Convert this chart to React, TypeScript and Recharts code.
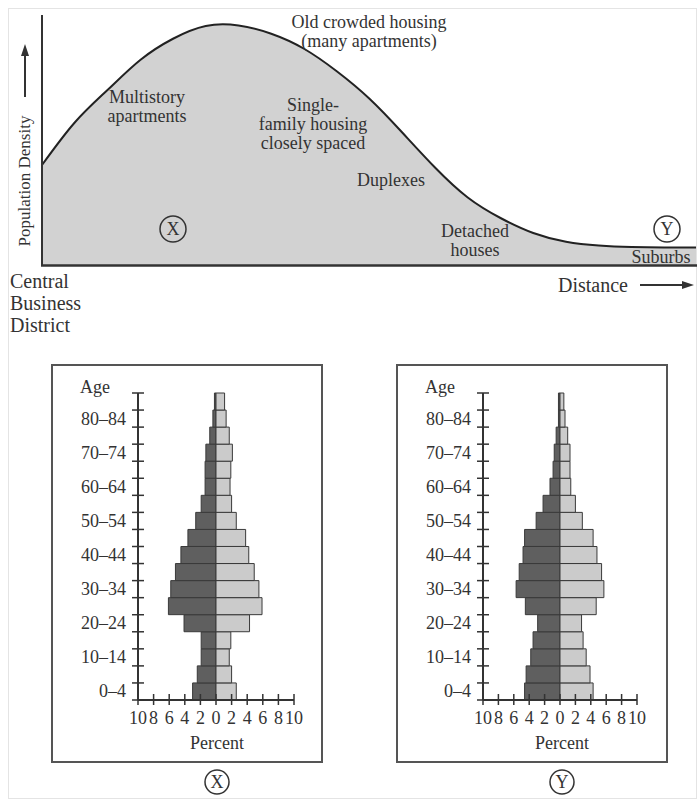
import { AreaChart, Area, BarChart, Bar, XAxis, YAxis } from "recharts";

// distance from the CBD (0-100) and population density
const distance = [0, 5, 10, 15, 20, 25, 30, 35, 40, 45, 50, 55, 60, 65, 70, 75, 80, 85, 90, 95, 100];
const density = [40, 57, 70, 82, 90.5, 95.6, 95.8, 92.5, 86.5, 77.5, 66.5, 53, 39, 27, 18.8, 12.8, 9.3, 7.8, 7.2, 7, 7];

const ageGroups = [
  "0–4", "5–9", "10–14", "15–19", "20–24", "25–29", "30–34", "35–39", "40–44",
  "45–49", "50–54", "55–59", "60–64", "65–69", "70–74", "75–79", "80–84", "85+",
];

// pyramid X (left = dark bars, right = light bars), percent
const xLeft = [3.0, 2.4, 1.9, 1.9, 4.1, 6.1, 5.8, 5.2, 4.5, 3.6, 2.6, 1.9, 1.4, 1.4, 1.3, 0.8, 0.4, 0.2];
const xRight = [2.6, 2.0, 1.7, 1.9, 4.3, 5.9, 5.5, 4.9, 4.2, 3.8, 2.6, 2.0, 1.8, 1.9, 2.1, 1.7, 1.3, 1.1];

// pyramid Y
const yLeft = [4.6, 4.4, 3.8, 3.5, 2.9, 4.5, 5.7, 5.3, 4.8, 4.6, 3.1, 2.2, 1.3, 0.9, 0.75, 0.5, 0.2, 0.2];
const yRight = [4.3, 3.9, 3.4, 3.0, 2.8, 4.7, 5.7, 5.4, 4.8, 4.3, 2.9, 2.0, 1.4, 1.3, 1.3, 1.0, 0.65, 0.5];

const percentTicks = [-10, -8, -6, -4, -2, 0, 2, 4, 6, 8, 10];

const FONT = "'Liberation Serif', 'Times New Roman', serif";
const INK = "#333";

const curveData = distance.map((d, i) => ({ dist: d, density: density[i] }));

const PYR_W = 270;
const PYR_H = 397;
const PYR_TOP = 28;
const PYR_XAXIS_H = 62;
const BAND = (PYR_H - PYR_TOP - PYR_XAXIS_H) / ageGroups.length;

const AgeTick = (props: any) => {
  const { x, y, payload } = props;
  const idx = ageGroups.indexOf(payload.value);
  return (
    <g>
      <line x1={x - 6} x2={x + 6} y1={y + BAND / 2} y2={y + BAND / 2} stroke={INK} strokeWidth={1.5} />
      {idx === ageGroups.length - 1 && (
        <line x1={x - 6} x2={x + 6} y1={y - BAND / 2} y2={y - BAND / 2} stroke={INK} strokeWidth={1.5} />
      )}
      {idx % 2 === 0 && idx < ageGroups.length - 1 && (
        <text x={x - 12} y={y + 6} textAnchor="end" fontSize={18} fontFamily={FONT} fill={INK}>
          {payload.value}
        </text>
      )}
    </g>
  );
};

const PercentTick = (props: any) => {
  const { x, y, payload } = props;
  return (
    <g>
      <line x1={x} x2={x} y1={y - 6} y2={y + 5} stroke={INK} strokeWidth={1.5} />
      <text x={x} y={y + 24} textAnchor="middle" fontSize={18} fontFamily={FONT} fill={INK}>
        {Math.abs(payload.value)}
      </text>
    </g>
  );
};

const Pyramid = ({ left, top, axisW, rightM, lv, rv }: any) => {
  const rows = ageGroups.map((age, i) => ({ age, left: -lv[i], right: rv[i] }));
  return (
    <div style={{ position: "absolute", left, top }}>
      <BarChart
        width={PYR_W}
        height={PYR_H}
        data={rows}
        layout="vertical"
        stackOffset="sign"
        barCategoryGap={0}
        margin={{ top: PYR_TOP, right: rightM, bottom: 0, left: 0 }}
      >
        <XAxis
          type="number"
          domain={[-10, 10]}
          ticks={percentTicks}
          interval={0}
          height={PYR_XAXIS_H}
          tickSize={0}
          tickMargin={0}
          tickLine={false}
          tick={<PercentTick />}
          axisLine={{ stroke: INK, strokeWidth: 2 }}
        />
        <YAxis
          type="category"
          dataKey="age"
          reversed
          width={axisW}
          interval={0}
          tickSize={0}
          tickMargin={0}
          tickLine={false}
          tick={<AgeTick />}
          axisLine={{ stroke: INK, strokeWidth: 2 }}
        />
        <Bar dataKey="left" stackId="p" fill="#5f5f5f" stroke="#3a3a3a" strokeWidth={1} isAnimationActive={false} />
        <Bar dataKey="right" stackId="p" fill="#cbcbcb" stroke="#3a3a3a" strokeWidth={1} isAnimationActive={false} />
      </BarChart>
    </div>
  );
};

const T = ({ x, y, size = 18, anchor = "middle", children }: any) => (
  <text x={x} y={y} fontSize={size} textAnchor={anchor} fontFamily={FONT} fill={INK}>
    {children}
  </text>
);

export default function App() {
  return (
    <div
      style={{
        position: "absolute",
        left: 0,
        top: 0,
        width: 697,
        height: 802,
        background: "#fff",
        fontFamily: FONT,
        overflow: "hidden",
      }}
    >
      <div style={{ position: "absolute", left: 0, top: 0 }}>
        <AreaChart width={697} height={340} data={curveData} margin={{ top: 15, right: 0, bottom: 75, left: 42 }}>
          <XAxis type="number" dataKey="dist" domain={[0, 100]} height={0} tick={false} tickLine={false} axisLine={false} />
          <YAxis domain={[0, 100]} width={0} tick={false} tickLine={false} axisLine={false} />
          <Area
            type="natural"
            dataKey="density"
            stroke="#222"
            strokeWidth={2}
            fill="#d2d2d2"
            fillOpacity={1}
            isAnimationActive={false}
          />
        </AreaChart>
      </div>

      <Pyramid left={52} top={365} axisW={86} rightM={28} lv={xLeft} rv={xRight} />
      <Pyramid left={397} top={365} axisW={86} rightM={30} lv={yLeft} rv={yRight} />

      <svg width={697} height={802} style={{ position: "absolute", left: 0, top: 0, pointerEvents: "none" }}>
        <rect x={8.5} y={8.5} width={688} height={790} fill="none" stroke="#e4e4e4" />

        {/* top panel axes */}
        <line x1={42} y1={15} x2={42} y2={266} stroke={INK} strokeWidth={2} />
        <line x1={41} y1={265.5} x2={697} y2={265.5} stroke={INK} strokeWidth={2.5} />

        {/* top panel labels */}
        <T x={369} y={28}>Old crowded housing</T>
        <T x={369} y={47}>(many apartments)</T>
        <T x={147} y={103}>Multistory</T>
        <T x={147} y={122}>apartments</T>
        <T x={313} y={111}>Single-</T>
        <T x={313} y={130}>family housing</T>
        <T x={313} y={149}>closely spaced</T>
        <T x={391} y={186}>Duplexes</T>
        <T x={475} y={237}>Detached</T>
        <T x={475} y={256}>houses</T>
        <T x={661} y={263}>Suburbs</T>

        <circle cx={173} cy={229} r={13} fill="none" stroke={INK} strokeWidth={1.5} />
        <T x={173} y={235}>X</T>
        <circle cx={667} cy={229} r={13} fill="none" stroke={INK} strokeWidth={1.5} />
        <T x={667} y={235}>Y</T>

        <text
          x={0}
          y={0}
          transform="translate(30 181) rotate(-90)"
          fontSize={17}
          textAnchor="middle"
          fontFamily={FONT}
          fill={INK}
        >
          Population Density
        </text>
        <line x1={25} y1={97} x2={25} y2={54} stroke={INK} strokeWidth={2} />
        <polygon points="25,44 21,56 29,56" fill={INK} />

        <T x={10} y={288} size={20} anchor="start">Central</T>
        <T x={10} y={310} size={20} anchor="start">Business</T>
        <T x={10} y={332} size={20} anchor="start">District</T>

        <T x={558} y={292} size={20} anchor="start">Distance</T>
        <line x1={640} y1={285} x2={684} y2={285} stroke={INK} strokeWidth={2} />
        <polygon points="694,285 682,281 682,289" fill={INK} />

        {/* pyramid frames and captions */}
        <rect x={52} y={365} width={270} height={397} fill="none" stroke="#555" strokeWidth={2} />
        <rect x={397} y={365} width={270} height={397} fill="none" stroke="#555" strokeWidth={2} />

        <T x={80} y={393} anchor="start">Age</T>
        <T x={425} y={393} anchor="start">Age</T>
        <T x={217} y={749}>Percent</T>
        <T x={562} y={749}>Percent</T>

        <circle cx={217} cy={782} r={12} fill="none" stroke={INK} strokeWidth={1.5} />
        <T x={217} y={788}>X</T>
        <circle cx={562} cy={782} r={12} fill="none" stroke={INK} strokeWidth={1.5} />
        <T x={562} y={788}>Y</T>
      </svg>
    </div>
  );
}
